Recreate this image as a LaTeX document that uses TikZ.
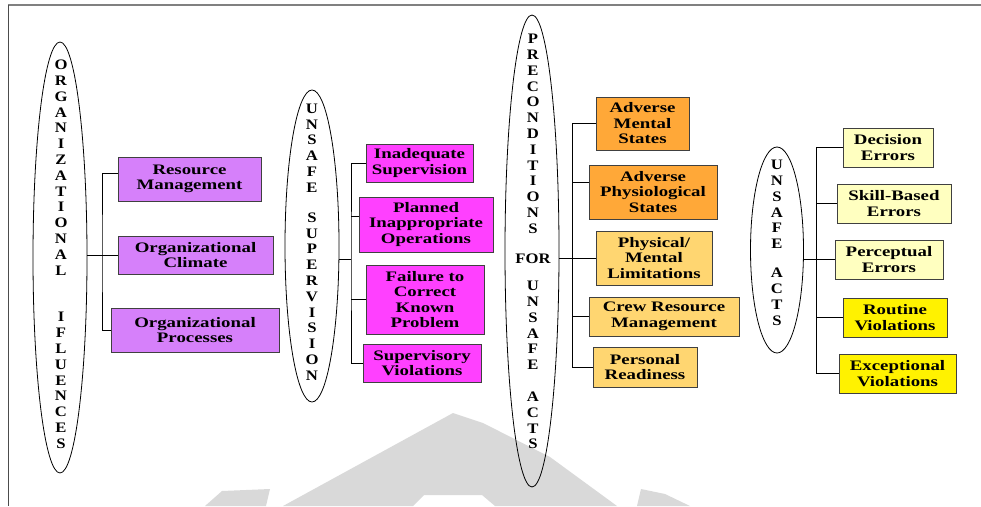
\documentclass[tikz,border=0pt]{standalone}
\usepackage{fontspec}
\setmainfont{Liberation Serif}
\newfontfamily\boxfont[FakeStretch=1.3]{Liberation Serif}
\newfontfamily\tierfont[FakeStretch=1.15]{Liberation Serif}
\usetikzlibrary{shapes.geometric}

\definecolor{orgfill}{RGB}{214,128,250}
\definecolor{supfill}{RGB}{255,64,255}
\definecolor{prefill}{RGB}{255,168,56}
\definecolor{prelite}{RGB}{255,214,113}
\definecolor{actlite}{RGB}{255,255,192}
\definecolor{actfill}{RGB}{255,242,0}
\definecolor{markgray}{RGB}{217,217,217}

\begin{document}
\begin{tikzpicture}[x=1pt,y=-1pt,
  tier/.style={draw=black, line width=0.8pt, ellipse, inner sep=0pt},
  letters/.style={align=center, inner sep=0pt, font=\tierfont\bfseries\fontsize{14.5}{15.8}\selectfont},
  item/.style={draw=black!75, line width=0.9pt, inner sep=0pt, align=center,
               font=\boxfont\bfseries\fontsize{14.5}{15.5}\selectfont},
  link/.style={draw=black, line width=0.8pt}
]
\useasboundingbox (0,0) rectangle (981,506);

% faint emblem behind the chart
\fill[markgray] (283,506) -- (453,413) -- (483,423) -- (550,457) -- (617,506)
  -- (495,506) -- (482,495) -- (424,495) -- (413,506) -- cycle;
\fill[markgray] (205,506) -- (222,491) -- (270,489) -- (266,506) -- cycle;
\fill[markgray] (637,506) -- (641,489) -- (665,494) -- (690,506) -- cycle;

% page frame
\draw[line width=1.8pt, color=black!50] (8,5) -- (981,5);
\draw[line width=1pt, color=black!70] (8,5) -- (8,506);

% ---------------- Organizational influences ----------------
\node[tier, minimum width=54pt, minimum height=431pt] (oi) at (60,257.5) {};
\node[letters] (oi-txt) at (61,254.3)
  {O\\R\\G\\A\\N\\I\\Z\\A\\T\\I\\O\\N\\A\\L\\[31pt]I\\F\\L\\U\\E\\N\\C\\E\\S};

\node[item, fill=orgfill, minimum width=143pt, minimum height=44pt] (rm) at (189.5,179) {Resource\\Management};
\node[item, fill=orgfill, minimum width=155pt, minimum height=38pt] (oc) at (195.5,255) {Organizational\\Climate};
\node[item, fill=orgfill, minimum width=168pt, minimum height=44pt] (op) at (195,330) {Organizational\\Processes};

\coordinate (oiT) at (102,255);
\draw[link] ([yshift=2.5pt]oi.east) -- (oc.west);
\draw[link] ([yshift=6pt]rm.west) -| (oiT) |- (op.west);

% ---------------- Unsafe supervision ----------------
\node[tier, minimum width=54pt, minimum height=312pt] (us) at (312,246) {};
\node[letters] (us-txt) at (312,242)
  {U\\N\\S\\A\\F\\E\\[14.2pt]S\\U\\P\\E\\R\\V\\I\\S\\I\\O\\N};

\node[item, fill=supfill, minimum width=107pt, minimum height=38pt] (is) at (419.5,163) {Inadequate\\Supervision};
\node[item, fill=supfill, minimum width=134pt, minimum height=55pt] (pio) at (426,224.5) {Planned\\Inappropriate\\Operations};
\node[item, fill=supfill, minimum width=118pt, minimum height=69pt] (fck) at (425,299.5) {Failure to\\Correct\\Known\\Problem};
\node[item, fill=supfill, minimum width=118pt, minimum height=38pt] (sv) at (422,363) {Supervisory\\Violations};

\coordinate (usT) at (351,259);
\draw[link] ([yshift=-13pt]us.east) -- (usT);
\draw[link] (is.west) -| (usT) |- (sv.west);
\path ([yshift=8.5pt]pio.west) coordinate (pioL);
\draw[link] (pioL) -- (usT |- pioL);
\draw[link] (fck.west) -- (usT |- fck.west);

% ---------------- Preconditions for unsafe acts ----------------
\node[tier, minimum width=54pt, minimum height=472pt] (pc) at (532,251) {};
\node[letters] (pc-txt) at (533,241.7)
  {P\\R\\E\\C\\O\\N\\D\\I\\T\\I\\O\\N\\S\\[14.6pt]FOR\\[11.2pt]U\\N\\S\\A\\F\\E\\[16pt]A\\C\\T\\S};

\node[item, fill=prefill, minimum width=93pt,  minimum height=53pt] (ams) at (642.5,123.5) {Adverse\\Mental\\States};
\node[item, fill=prefill, minimum width=128pt, minimum height=54pt] (aps) at (653,192) {Adverse\\Physiological\\States};
\node[item, fill=prelite, minimum width=116pt, minimum height=54pt] (pml) at (654,258) {Physical/\\Mental\\Limitations};
\node[item, fill=prelite, minimum width=150pt, minimum height=39pt] (crm) at (664,316.5) {Crew Resource\\Management};
\node[item, fill=prelite, minimum width=104pt, minimum height=40pt] (pr) at (645,367) {Personal\\Readiness};

\coordinate (pcT) at (572,258);
\draw[link] ([yshift=-7pt]pc.east) -- (pml.west);
\draw[link] (ams.west) -| (pcT) |- (pr.west);
\path ([yshift=10pt]aps.west) coordinate (apsL);
\draw[link] (apsL) -- (pcT |- apsL);
\draw[link] (crm.west) -- (pcT |- crm.west);

% ---------------- Unsafe acts ----------------
\node[tier, minimum width=53pt, minimum height=206pt] (ua) at (777,250) {};
\node[letters] (ua-txt) at (777,242.7)
  {U\\N\\S\\A\\F\\E\\[13.2pt]A\\C\\T\\S};

\node[item, fill=actlite, minimum width=90pt,  minimum height=39pt] (de) at (888,147.5) {Decision\\Errors};
\node[item, fill=actlite, minimum width=114pt, minimum height=39pt] (sbe) at (894,203.5) {Skill-Based\\Errors};
\node[item, fill=actlite, minimum width=108pt, minimum height=39pt] (pe) at (889,259.5) {Perceptual\\Errors};
\node[item, fill=actfill, minimum width=104pt, minimum height=39pt] (rv) at (895,317.5) {Routine\\Violations};
\node[item, fill=actfill, minimum width=117pt, minimum height=39pt] (ev) at (897.5,373.5) {Exceptional\\Violations};

\coordinate (uaT) at (816,259.5);
\draw[link] ([yshift=-9.5pt]ua.east) -- (pe.west);
\draw[link] (de.west) -| (uaT) |- (ev.west);
\draw[link] (sbe.west) -- (uaT |- sbe.west);
\draw[link] (rv.west) -- (uaT |- rv.west);

\end{tikzpicture}
\end{document}
